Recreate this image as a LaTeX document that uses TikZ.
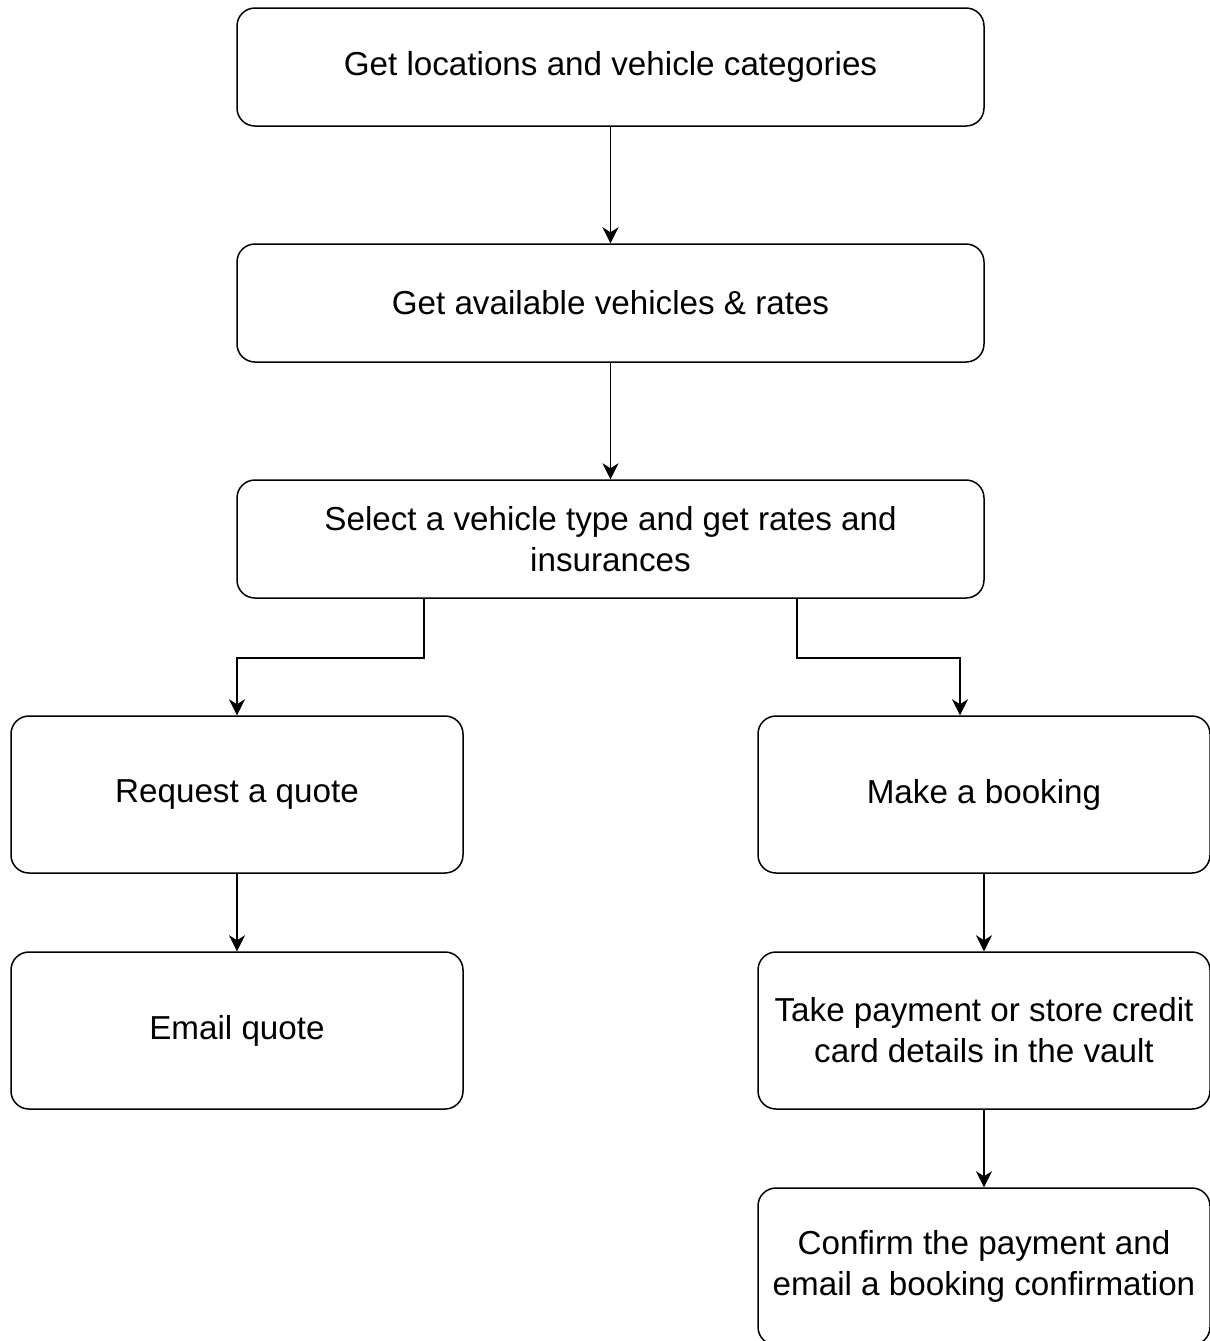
\documentclass[tikz,border=0pt]{standalone}
\usepackage{fontspec}
\setmainfont{Liberation Sans}
\usepackage{tikz}
\usetikzlibrary{arrows.meta}

\begin{document}
\begin{tikzpicture}[x=0.5pt,y=-0.5pt,
    wide/.style={draw,line width=0.75pt,rounded corners=9pt,minimum width=373.5pt,minimum height=59pt,align=center,font=\fontsize{16.6}{20.5}\selectfont},
    small/.style={wide,minimum width=226pt,minimum height=78.5pt},
    arr/.style={line width=0.75pt,-{Stealth[length=8pt,width=8pt,inset=2.5pt]}}]
      \useasboundingbox (0,0) rectangle (1210,1341);

      \node [wide] (loc) at (610.5,67) {Get locations and vehicle categories};
      \node [wide] (avail) at (610.5,303) {Get available vehicles \& rates};
      \node [wide] (sel) at (610.5,539) {Select a vehicle type and get rates and\\insurances};
      \node [small] (quote) at (237,794.5) {Request a quote};
      \node [small] (email) at (237,1030.5) {Email quote};
      \node [small] (book) at (984,794.5) {Make a booking};
      \node [small] (pay) at (984,1030.5) {Take payment or store credit\\card details in the vault};
      \node [small] (conf) at (984,1266.5) {Confirm the payment and\\email a booking confirmation};

      \draw [arr] (loc) -- (avail);
      \draw [arr] (avail) -- (sel);
      \draw [arr] ([xshift=-93.25pt]sel.south) -- ++(0,59) -| (quote.north);
      \draw [arr] ([xshift=93.25pt]sel.south) -- ++(0,59) -| ([xshift=-12pt]book.north);
      \draw [arr] (quote) -- (email);
      \draw [arr] (book) -- (pay);
      \draw [arr] (pay) -- (conf);
    \end{tikzpicture}
\end{document}
